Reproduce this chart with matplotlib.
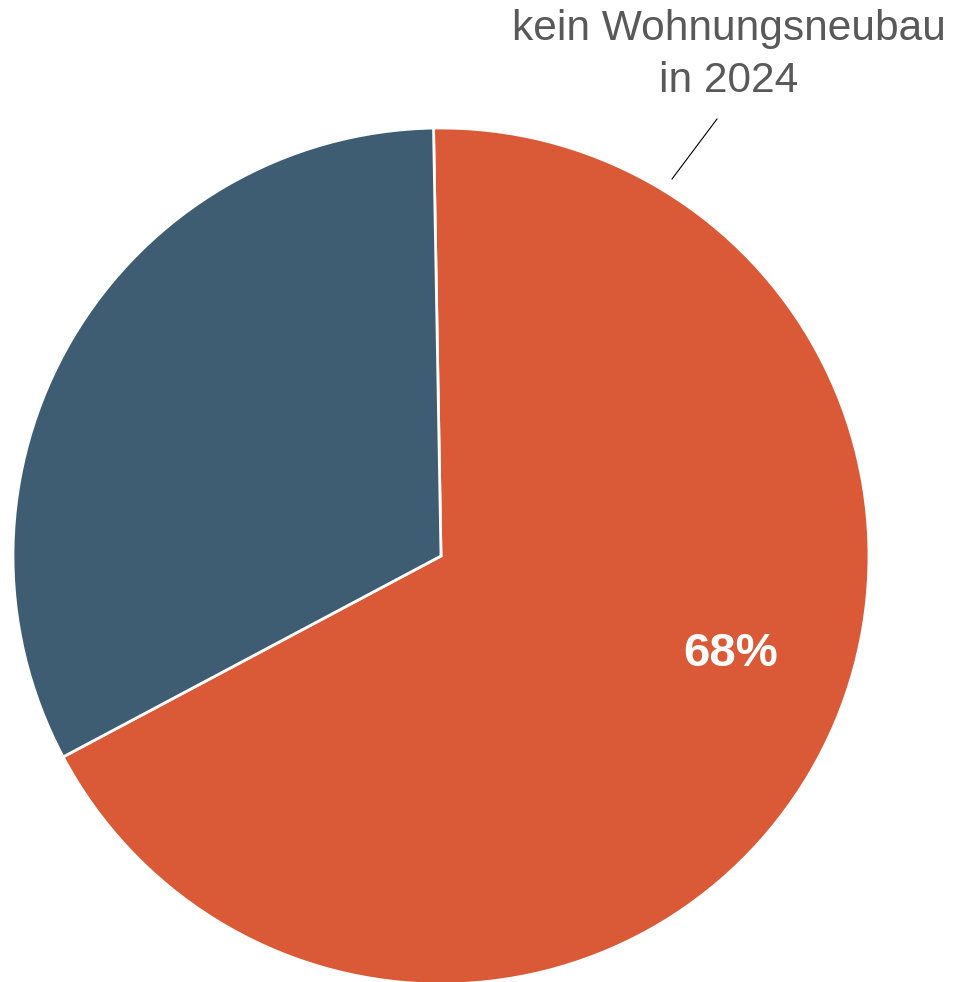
import matplotlib

matplotlib.use("Agg")
import matplotlib.pyplot as plt

# Data
labels = ["kein Wohnungsneubau\nin 2024", "Wohnungsneubau in 2024"]
shares = [67.5, 32.5]
colors = ["#DA5936", "#3E5D73"]

W, H = 955, 982
fig = plt.figure(figsize=(W / 100, H / 100), dpi=100)
ax = fig.add_axes([0, 0, 1, 1])

cx, cy, r = 441, H - 556, 428
wedges, _ = ax.pie(
    shares,
    colors=colors,
    startangle=91,
    counterclock=False,
    center=(cx, cy),
    radius=r,
    wedgeprops=dict(edgecolor="white", linewidth=2),
    frame=True,
)
ax.set_xlim(0, W)
ax.set_ylim(0, H)
ax.set_aspect("equal")
ax.axis("off")

# percentage label inside the big slice
ax.text(731, H - 654, f"{shares[0]:.0f}%", color="white", fontsize=34,
        fontweight="bold", family="Liberation Sans", ha="center", va="center")

# outside label with leader line
ax.text(729, H - 55, labels[0], color="#595959", fontsize=30.6,
        family="Liberation Sans", ha="center", va="center", linespacing=1.36)
ax.plot([672, 717], [H - 179, H - 119], color="black", linewidth=0.8)

fig.savefig("out.png", facecolor="white")
plt.close(fig)
